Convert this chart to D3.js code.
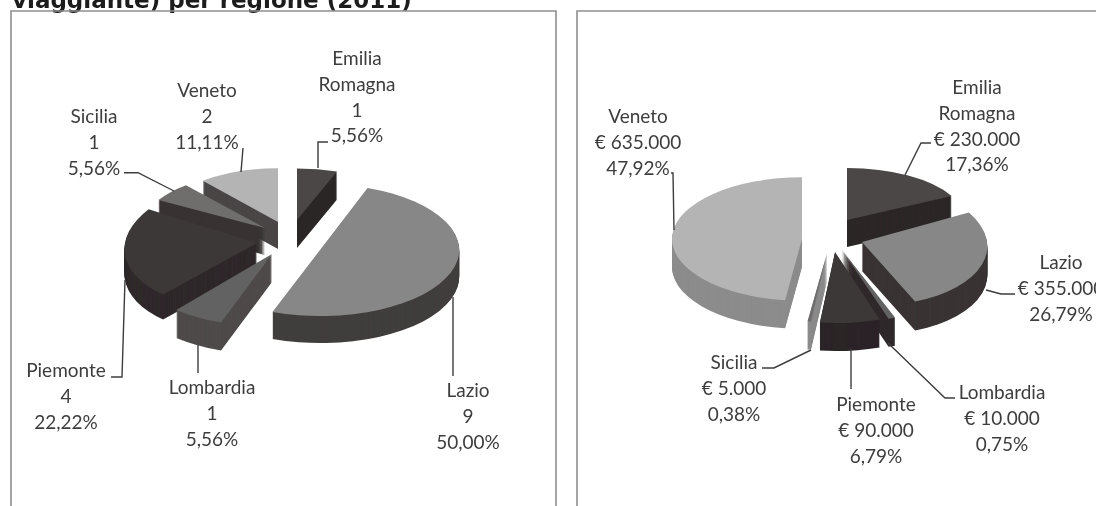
<!DOCTYPE html>
<html>
<head>
<meta charset="utf-8">
<script src="https://cdn.jsdelivr.net/npm/d3@7"></script>
<style>
  html, body { margin: 0; padding: 0; background: #fff; overflow: hidden; }
</style>
</head>
<body>
<div id="chart"></div>
<script>
// data
const regioni = ["Emilia Romagna", "Lazio", "Lombardia", "Piemonte", "Sicilia", "Veneto"];
const numeroImprese = [1, 9, 1, 4, 1, 2];
const importi = [230000, 355000, 10000, 90000, 5000, 635000];

const width = 1096;
const height = 506;

const it = d3.formatLocale({ decimal: ",", thousands: ".", grouping: [3], currency: ["€ ", ""] });
const fmtPct = it.format(".2f");
const fmtEuro = it.format("$,.0f");

const svg = d3.select("#chart")
    .append("svg")
    .attr("width", width)
    .attr("height", height)
    .style("display", "block");

const defs = svg.append("defs");
defs.append("filter").attr("id", "scan")
    .append("feGaussianBlur").attr("stdDeviation", 0.5);

const root = svg.append("g").attr("filter", "url(#scan)");

// title, cut by the top of the page
root.append("text")
    .attr("x", 12)
    .attr("y", 8)
    .attr("font-family", "DejaVu Sans")
    .attr("font-weight", "bold")
    .attr("font-size", 23)
    .attr("fill", "#1a1a1a")
    .text("viaggiante) per regione (2011)");

// frames, open at the bottom
root.append("path")
    .attr("d", "M11,506V11H556V506")
    .attr("fill", "none").attr("stroke", "#8e8e8e").attr("stroke-width", 1.6);
root.append("path")
    .attr("d", "M577,506V11H1096")
    .attr("fill", "none").attr("stroke", "#8e8e8e").attr("stroke-width", 1.6);

// every slice: where its apex sits, radius, tilt, shear, extrusion, colours
const tops = ["#4b4647", "#878787", "#646262", "#3d3839", "#6f6d6d", "#b4b4b4"];

const layoutLeft = [
    { cx: 297, cy: 220, r: 117, k: 0.44, s: 0, depth: 28, side: "#2b2627" },
    { cx: 320, cy: 250, r: 139, k: 0.475, s: 0, depth: 27, side: "#423d3d" },
    { cx: 272, cy: 254, r: 149, k: 0.49, s: 0, depth: 28, side: "#4f4b4b" },
    { cx: 257, cy: 243, r: 132, k: 0.51, s: -0.09, depth: 25, side: "#2e292a" },
    { cx: 265, cy: 228, r: 123, k: 0.455, s: 0, depth: 27, side: "#383334" },
    { cx: 278, cy: 222, r: 117, k: 0.46, s: 0, depth: 27, side: "#4a4647" }
];
const orderLeft = [5, 0, 4, 3, 2, 1];

const layoutRight = [
    { cx: 847, cy: 220, r: 118, k: 0.44, s: 0, depth: 27, side: "#2d2829" },
    { cx: 862, cy: 242, r: 125, k: 0.51, s: 0.07, depth: 29, side: "#393434" },
    { cx: 842, cy: 250, r: 148, k: 0.49, s: 0, depth: 28, side: "#2e292a" },
    { cx: 835, cy: 252, r: 142, k: 0.5, s: 0, depth: 28, side: "#2a2526" },
    { cx: 827, cy: 253, r: 150, k: 0.46, s: 0, depth: 28, side: "#8a8a8a" },
    { cx: 802, cy: 239, r: 130, k: 0.475, s: 0, depth: 28, side: "#8c8c8c" }
];
const orderRight = [5, 0, 1, 2, 4, 3];

// label centres and first line, then the leader drawn towards it
const labelsLeft = [
    { x: 357, y: 58, leader: [[318,168],[318,142],[328,142]] },
    { x: 468, y: 390, leader: [[453,297],[453,376]] },
    { x: 212, y: 387, leader: [[198,345],[198,373]] },
    { x: 66, y: 370, leader: [[125,280],[122,377],[111,377]] },
    { x: 94, y: 116, leader: [[174,191],[138,172.7],[124,172.7]] },
    { x: 207, y: 90, leader: [[241,172],[243,148]] }
];
const labelsRight = [
    { x: 977, y: 87, leader: [[905,175],[921,143],[931,143]] },
    { x: 1061, y: 262, leader: [[986,290],[1001,294],[1015,294]] },
    { x: 1002, y: 392, leader: [[888,343],[945,398],[955,398]] },
    { x: 876, y: 404, leader: [[851,348],[851,389]] },
    { x: 734, y: 362, leader: [[811,350],[774,368],[762,368]] },
    { x: 638, y: 116, leader: [[674,230],[673,173],[671,173]] }
];

const pie = d3.pie().sort(null);
const arc = d3.arc().innerRadius(0);
const line = d3.line();

function drawPie(values, layout, order, labels, fmtValue) {
    const total = d3.sum(values);
    const slices = pie(values);
    const g = root.append("g");

    order.forEach(i => {
        const s = slices[i], l = layout[i];
        const d = arc({ startAngle: s.startAngle, endAngle: s.endAngle, outerRadius: l.r });
        const slice = g.append("g").attr("class", "slice");
        // extrusion: the same wedge repeated downwards
        slice.selectAll("path.side")
            .data(d3.range(l.depth, 0, -1))
            .join("path")
            .attr("class", "side")
            .attr("d", d)
            .attr("fill", l.side)
            .attr("transform", o => `matrix(1,0,${l.s},${l.k},${l.cx},${l.cy + o})`);
        slice.append("path")
            .attr("d", d)
            .attr("fill", tops[i])
            .attr("transform", `matrix(1,0,${l.s},${l.k},${l.cx},${l.cy})`);
    });

    regioni.forEach((name, i) => {
        const lab = labels[i];
        g.append("path")
            .attr("d", line(lab.leader))
            .attr("fill", "none")
            .attr("stroke", "#3c3c3c")
            .attr("stroke-width", 1.4);
        const lines = [...name.split(" "), fmtValue(values[i]), fmtPct(values[i] / total * 100) + "%"];
        g.append("text")
            .attr("text-anchor", "middle")
            .attr("font-family", "Lato")
            .attr("font-size", 19)
            .attr("fill", "#3d3d3d")
            .selectAll("tspan")
            .data(lines)
            .join("tspan")
            .attr("x", lab.x)
            .attr("y", (t, n) => lab.y + 7 + n * 25.8)
            .text(t => t);
    });
}

drawPie(numeroImprese, layoutLeft, orderLeft, labelsLeft, v => String(v));
drawPie(importi, layoutRight, orderRight, labelsRight, fmtEuro);
</script>
</body>
</html>
